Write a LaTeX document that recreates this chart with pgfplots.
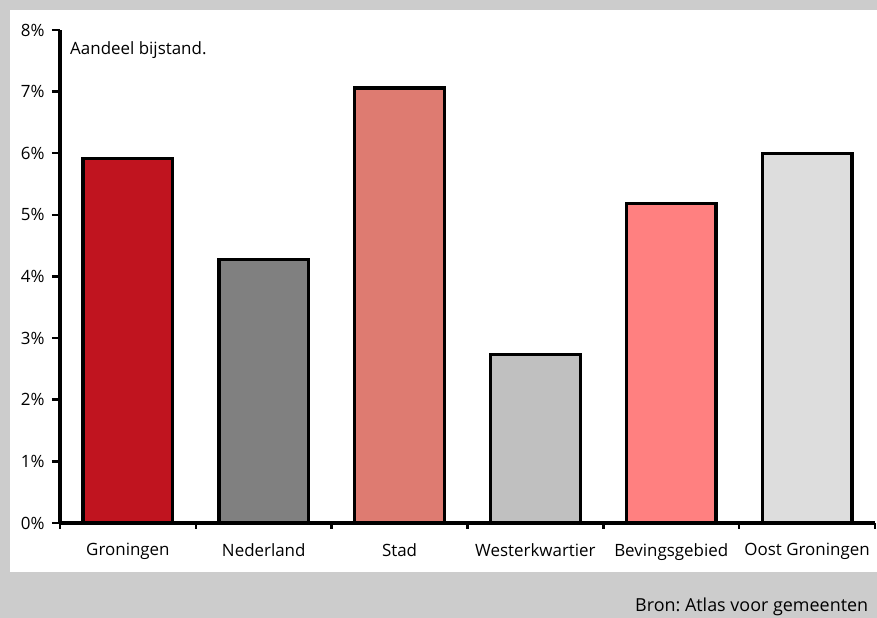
\documentclass[border=0pt]{standalone}
\usepackage{pgfplots}
\pgfplotsset{compat=1.18}
\usepackage{fontspec}
\setmainfont{Open Sans}
\frenchspacing
\definecolor{bg}{HTML}{CCCCCC}
\definecolor{cGron}{HTML}{C0141F}
\definecolor{cNed}{HTML}{808080}
\definecolor{cStad}{HTML}{DE7B71}
\definecolor{cWest}{HTML}{C0C0C0}
\definecolor{cBev}{HTML}{FF8080}
\definecolor{cOost}{HTML}{DDDDDD}
\begin{document}
\begin{tikzpicture}[x=1bp,y=1bp]
\useasboundingbox (-60,-95) rectangle (817,523);
\clip (-60,-95) rectangle (817,523);
\fill[bg] (-60,-95) rectangle (817,523);
\fill[white] (-50,-49) rectangle (830,513);
\node[anchor=west,inner sep=0pt,font=\fontsize{18}{20}\selectfont] at (575,-84) {Bron: Atlas voor gemeenten};
\begin{axis}[
  at={(0,0)}, anchor=south west,
  width=815bp, height=493bp, scale only axis,
  xmin=0, xmax=6, ymin=0, ymax=8,
  axis lines*=left,
  axis line style={line width=3.2bp,-},
  ybar, bar width=0.66, bar shift=0pt,
  ytick={0,1,...,8},
  yticklabel={\pgfmathprintnumber{\tick}\%},
  xtick={0.5,1.5,...,5.5},
  xticklabels={Groningen,Nederland,Stad,Westerkwartier,Bevingsgebied,Oost Groningen},
  minor xtick={0,1,...,6},
  tick align=outside,
  major tick length=8bp,
  minor tick length=6bp,
  major x tick style={draw=none},
  minor x tick style={line width=2.5bp,black},
  major y tick style={line width=2.5bp,black},
  tick label style={font=\fontsize{17}{19}\selectfont},
  xticklabel style={yshift=-9bp},
  yticklabel style={xshift=-4bp},
  /pgf/number format/assume math mode=true,
  clip=false,
]
\addplot[fill=cGron,draw=black,line width=3.2bp] coordinates {(0.5,5.92)};
\addplot[fill=cNed,draw=black,line width=3.2bp] coordinates {(1.5,4.27)};
\addplot[fill=cStad,draw=black,line width=3.2bp] coordinates {(2.5,7.06)};
\addplot[fill=cWest,draw=black,line width=3.2bp] coordinates {(3.5,2.74)};
\addplot[fill=cBev,draw=black,line width=3.2bp] coordinates {(4.5,5.18)};
\addplot[fill=cOost,draw=black,line width=3.2bp] coordinates {(5.5,5.99)};
\node[anchor=west,inner sep=0pt,font=\fontsize{17}{19}\selectfont] at (rel axis cs:0.0123,0.959) {Aandeel bijstand.};
\end{axis}
\end{tikzpicture}
\end{document}
